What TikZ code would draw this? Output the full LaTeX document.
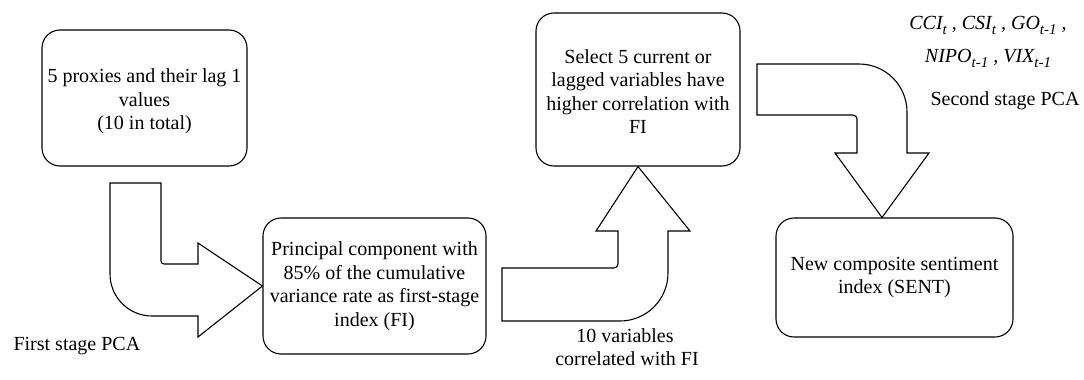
\documentclass[tikz,border=0pt]{standalone}
\usepackage{fontspec}
\setmainfont{Liberation Serif}
\newcommand\lsub[1]{\raisebox{-5.5pt}{\fontsize{15}{15}\selectfont\itshape #1}}
\begin{document}
\begin{tikzpicture}[x=1pt,y=-1pt,line width=1.1pt,
  box/.style={draw, rounded corners=18pt, align=center, inner sep=0pt,
    font=\fontsize{20}{23.5}\selectfont},
  blockarrow/.style={draw, line join=miter, rounded corners=0pt},
  lbl/.style={inner sep=0pt, font=\fontsize{20}{23.5}\selectfont}]
\useasboundingbox (0,0) rectangle (1084,380);
% boxes
\node[box, minimum width=205pt, minimum height=136pt] (b1) at (144.5,98)
  {\rule{0pt}{21pt}5 proxies and their lag 1\\values\\(10 in total)};
\node[box, minimum width=223pt, minimum height=136pt] (b2) at (374.5,286)
  {Principal component with\\85\% of the cumulative\\variance rate as first-stage\\index (FI)};
\node[box, minimum width=204pt, minimum height=153pt] (b3) at (638,89.5)
  {\rule{0pt}{18pt}Select 5 current or\\lagged variables have\\higher correlation with\\FI};
\node[box, minimum width=237pt, minimum height=119pt] (b4) at (894.5,277.5)
  {New composite sentiment\\index (SENT)};
% block arrows
\draw[blockarrow] (110,183) -- (161,183) -- (161,261)
  arc[start angle=180,end angle=270,radius=3pt] -- (198,264) -- (198,243)
  -- (b2.west) -- (198,337) -- (198,316) -- (152,316)
  arc[start angle=270,end angle=180,radius=42pt] -- cycle;
\draw[blockarrow] (502,268) -- (614,268)
  arc[start angle=270,end angle=360,radius=4pt] -- (618,231) -- (596,231)
  -- (b3.south) -- (690,231) -- (668,231) -- (668,273)
  arc[start angle=0,end angle=-90,radius=48pt] -- (502,321) -- cycle;
\draw[blockarrow] (757,64) -- (859,64)
  arc[start angle=90,end angle=0,radius=48pt] -- (907,153) -- (929,153)
  -- (b4.north -| 882,0) -- (835,153) -- (857,153) -- (857,119)
  arc[start angle=0,end angle=90,radius=4pt] -- (757,115) -- cycle;
% labels
\node[lbl, anchor=base west] (l1) at (13,350) {First stage PCA};
\node[lbl, anchor=base] (l2a) at (625,342) {10 variables};
\node[lbl, anchor=base] (l2b) at (627,365) {correlated with FI};
\node[lbl, anchor=base] (l3) at (1005,105) {Second stage PCA};
\node[lbl, anchor=base] (m1) at (988,29)
  {\itshape CCI\lsub{t} , CSI\lsub{t} , GO\lsub{t-1} ,};
\node[lbl, anchor=base] (m2) at (988,62)
  {\itshape NIPO\lsub{t-1} , VIX\lsub{t-1}};
\end{tikzpicture}
\end{document}
